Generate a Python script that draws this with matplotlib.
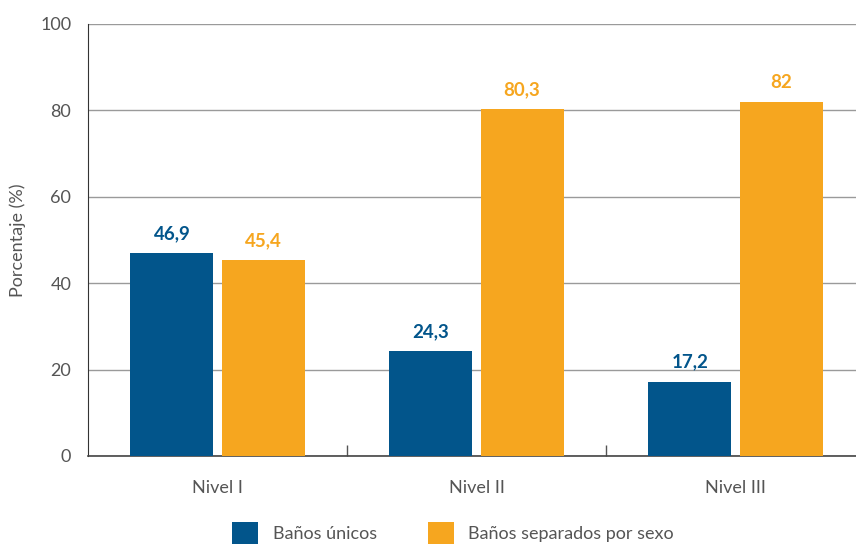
import matplotlib

matplotlib.use("Agg")

import matplotlib.pyplot as plt
import numpy as np
from matplotlib.patches import Patch

categories = ["Nivel I", "Nivel II", "Nivel III"]
banos_unicos = [46.9, 24.3, 17.2]
banos_separados = [45.4, 80.3, 82]
series_labels = ["Baños únicos", "Baños separados por sexo"]
y_ticks = [0, 20, 40, 60, 80, 100]

BLUE = "#02558b"
ORANGE = "#f6a61f"
GRAY_TEXT = "#555555"

plt.rcParams["font.family"] = ["Lato", "DejaVu Sans"]

fig = plt.figure(figsize=(8.56, 5.46), dpi=100)
ax = fig.add_axes([88 / 856, 90 / 546, 777 / 856, 432 / 546])

x = np.arange(len(categories))
width = 0.32
offset = 0.176

bars_a = ax.bar(x - offset, banos_unicos, width, color=BLUE, zorder=3)
bars_b = ax.bar(x + offset, banos_separados, width, color=ORANGE, zorder=3)


def fmt(v):
    s = f"{v:.1f}".replace(".", ",")
    return s[:-2] if s.endswith(",0") else s


for bars, vals, col in [(bars_a, banos_unicos, BLUE), (bars_b, banos_separados, ORANGE)]:
    for b, v in zip(bars, vals):
        ax.annotate(
            fmt(v),
            xy=(b.get_x() + b.get_width() / 2, v),
            xytext=(0, 8),
            textcoords="offset points",
            ha="center",
            va="bottom",
            fontsize=13.5,
            fontweight="bold",
            color=col,
        )

ax.set_xlim(-0.5, 2.5)
ax.set_ylim(0, 100)
ax.set_yticks(y_ticks)
ax.set_yticklabels([str(t) for t in y_ticks], color=GRAY_TEXT, fontsize=13)
ax.yaxis.grid(True, color="#9a9a9a", linewidth=1.0, zorder=0)
ax.tick_params(axis="y", length=0, pad=12)

ax.set_xticks([0.5, 1.5])
ax.set_xticklabels(["", ""])
ax.tick_params(axis="x", direction="in", length=8, color="#555555", width=1)
for xi, cat in zip(x, categories):
    ax.text(xi, -5.5, cat, ha="center", va="top", fontsize=13,
            color=GRAY_TEXT, transform=ax.transData)

ax.spines["top"].set_visible(False)
ax.spines["right"].set_visible(False)
ax.spines["left"].set_color("#333333")
ax.spines["bottom"].set_color("#444444")
ax.spines["bottom"].set_linewidth(1.2)

fig.text(18 / 856, 1 - 240 / 546, "Porcentaje (%)", rotation=90, ha="center",
         va="center", fontsize=13, color=GRAY_TEXT)

handles = [Patch(facecolor=BLUE), Patch(facecolor=ORANGE)]
fig.legend(
    handles,
    series_labels,
    loc="center",
    bbox_to_anchor=(453 / 856, 1 - 533 / 546),
    ncol=2,
    frameon=False,
    fontsize=13,
    handlelength=1.45,
    handleheight=1.45,
    handletextpad=0.8,
    columnspacing=2.8,
    labelcolor=GRAY_TEXT,
)

fig.savefig("out.png", dpi=100)
